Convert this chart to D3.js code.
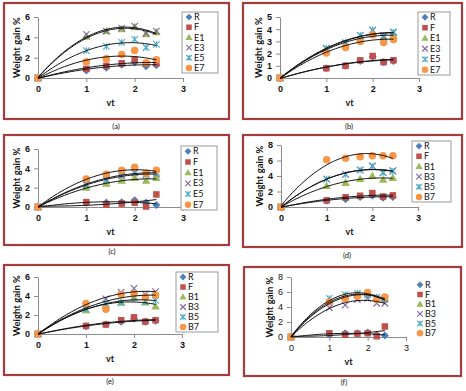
<!DOCTYPE html>
<html>
<head>
<meta charset="utf-8">
<script src="https://cdn.jsdelivr.net/npm/d3@7"></script>
<style>
body { margin: 0; background: #fff; }
</style>
</head>
<body>
<div id="chart"></div>
<script>
// x values are sqrt(t)
const vt = [0, 1, 1.414, 1.732, 2, 2.236, 2.449];
const xTicks = [0, 1, 2, 3];
const namesE = ["R", "F", "E1", "E3", "E5", "E7"];
const namesB = ["R", "F", "B1", "B3", "B5", "B7"];

// weight gain %, one row per series (R, F, E1/B1, E3/B3, E5/B5, E7/B7)
const gainA = [
    [0, 0.75, 1.0, 1.3, 1.55, 1.15, 1.25],
    [0, 0.9, 1.2, 1.45, 1.8, 1.4, 1.45],
    [0, 4.05, 4.6, 4.8, 5.0, 4.3, 4.5],
    [0, 4.3, 4.6, 4.9, 5.1, 4.4, 4.6],
    [0, 2.7, 3.1, 3.5, 3.8, 3.0, 3.3],
    [0, 1.6, 1.9, 2.3, 2.7, 1.5, 1.8]
];
const gainB = [
    [0, 0.8, 1.0, 1.4, 1.75, 1.3, 1.4],
    [0, 0.8, 1.0, 1.45, 1.8, 1.3, 1.45],
    [0, 2.3, 2.8, 3.3, 3.7, 3.3, 3.5],
    [0, 2.4, 2.85, 3.5, 3.9, 3.45, 3.75],
    [0, 2.45, 2.9, 3.5, 3.95, 3.35, 3.75],
    [0, 2.05, 2.5, 3.0, 3.55, 2.9, 3.15]
];
const gainC = [
    [0, 0.45, 0.45, 0.5, 0.7, 0.45, 0.2],
    [0, 0.5, 0.25, 0.35, 0.45, 0.05, 1.3],
    [0, 2.0, 2.4, 2.7, 3.0, 2.7, 3.0],
    [0, 2.3, 2.75, 3.2, 3.5, 3.3, 3.4],
    [0, 2.4, 2.85, 3.35, 3.6, 3.4, 3.55],
    [0, 2.9, 3.4, 3.8, 4.1, 3.5, 3.8]
];
const gainD = [
    [0, 0.8, 1.0, 1.3, 1.5, 1.2, 1.3],
    [0, 0.85, 1.25, 1.45, 1.8, 1.35, 1.5],
    [0, 2.7, 3.1, 3.6, 4.0, 3.5, 3.75],
    [0, 3.6, 4.2, 4.8, 5.3, 4.4, 4.7],
    [0, 3.6, 4.2, 4.75, 5.25, 4.45, 4.6],
    [0, 6.1, 6.3, 6.5, 6.6, 6.6, 6.6]
];
const gainE = [
    [0, 0.8, 1.0, 1.3, 1.6, 1.3, 1.4],
    [0, 0.85, 1.0, 1.45, 1.75, 1.3, 1.45],
    [0, 2.5, 3.0, 3.3, 3.8, 3.3, 2.9],
    [0, 3.0, 3.7, 4.4, 4.8, 4.2, 4.45],
    [0, 2.6, 3.2, 3.3, 3.9, 3.4, 3.55],
    [0, 3.2, 2.6, 4.15, 4.25, 3.9, 4.1]
];
const gainF = [
    [0, 0.3, 0.5, 0.5, 0.6, 0.3, 0.2],
    [0, 0.5, 0.3, 0.45, 0.5, 0.1, 1.4],
    [0, 4.8, 5.35, 5.6, 5.8, 5.15, 5.0],
    [0, 3.9, 4.25, 5.0, 5.15, 4.5, 4.5],
    [0, 5.15, 5.65, 5.8, 5.6, 5.3, 5.15],
    [0, 4.7, 5.15, 5.45, 5.95, 5.0, 5.35]
];

const colors = ["#4f81bd", "#c0504d", "#9bbb59", "#8064a2", "#4bacc6", "#f79646"];

// layout of each panel (pixel positions)
const panels = [
    {label: "(a)", data: gainA, names: namesE, yMax: 6, yStep: 2, frame: [4, 3, 225, 116],
     px: [38, 183], py: [78, 17], legend: [182, 12, 36, 61], lab: [116, 129], bold: true},
    {label: "(b)", data: gainB, names: namesE, yMax: 5, yStep: 1, frame: [243, 3, 219, 116],
     px: [280, 419], py: [78, 17], legend: [418, 12, 32, 63], lab: [349, 129], bold: true},
    {label: "(c)", data: gainC, names: namesE, yMax: 6, yStep: 2, frame: [4, 135, 225, 110],
     px: [38, 183], py: [207, 149], legend: [181, 146, 36, 64], lab: [112, 254], bold: true},
    {label: "(d)", data: gainD, names: namesB, yMax: 8, yStep: 2, frame: [243, 135, 219, 112],
     px: [281, 418], py: [207, 145], legend: [412, 141, 39, 61], lab: [347, 258], bold: true},
    {label: "(e)", data: gainE, names: namesB, yMax: 6, yStep: 2, frame: [4, 265, 225, 110],
     px: [38, 182], py: [334, 277], legend: [176, 272, 42, 60], lab: [110, 384], bold: true},
    {label: "(f)", data: gainF, names: namesB, yMax: 8, yStep: 2, frame: [244, 267, 217, 109],
     px: [291, 406], py: [337, 277], legend: [413, 280, 33, 58], lab: [344, 385], bold: false}
];

const svg = d3.select("#chart").append("svg")
    .attr("width", 466)
    .attr("height", 391)
    .style("font-family", "Lato, 'Open Sans', sans-serif");

// least squares 2nd order polynomial (like an excel trendline)
function quadFit(xs, ys) {
    const S = [0, 0, 0, 0, 0], T = [0, 0, 0];
    xs.forEach((x, i) => {
        for (let k = 0; k < 5; k++) S[k] += Math.pow(x, k);
        for (let k = 0; k < 3; k++) T[k] += Math.pow(x, k) * ys[i];
    });
    const M = [[S[0], S[1], S[2], T[0]], [S[1], S[2], S[3], T[1]], [S[2], S[3], S[4], T[2]]];
    for (let c = 0; c < 3; c++) {
        for (let r = c + 1; r < 3; r++) {
            const f = M[r][c] / M[c][c];
            for (let k = c; k < 4; k++) M[r][k] -= f * M[c][k];
        }
    }
    const b = [0, 0, 0];
    for (let r = 2; r >= 0; r--) {
        let s = M[r][3];
        for (let k = r + 1; k < 3; k++) s -= M[r][k] * b[k];
        b[r] = s / M[r][r];
    }
    return x => b[0] + b[1] * x + b[2] * x * x;
}

function marker(g, i, cx, cy, s) {
    const c = colors[i];
    if (i === 0) {
        // square turned 45 degrees
        const h = s * 0.62;
        g.append("path").attr("d", `M${cx},${cy - h}L${cx + h},${cy}L${cx},${cy + h}L${cx - h},${cy}Z`)
            .attr("fill", c);
    } else if (i === 1) {
        g.append("rect").attr("x", cx - s / 2).attr("y", cy - s / 2)
            .attr("width", s).attr("height", s).attr("fill", c);
    } else if (i === 2) {
        g.append("path").attr("d", d3.symbol(d3.symbolTriangle, s * s * 0.75)())
            .attr("transform", `translate(${cx},${cy + 0.5})`).attr("fill", c);
    } else if (i === 3 || i === 4) {
        const h = s / 2;
        let d = `M${cx - h},${cy - h}L${cx + h},${cy + h}M${cx - h},${cy + h}L${cx + h},${cy - h}`;
        if (i === 4) d += `M${cx},${cy - h}L${cx},${cy + h}`;
        g.append("path").attr("d", d).attr("stroke", c).attr("stroke-width", 1.1).attr("fill", "none");
    } else {
        g.append("circle").attr("cx", cx).attr("cy", cy).attr("r", s / 2 + 0.5).attr("fill", c);
    }
}

panels.forEach(function(p) {
    const g = svg.append("g");
    const fw = p.bold ? "bold" : "normal";

    g.append("rect")
        .attr("x", p.frame[0]).attr("y", p.frame[1])
        .attr("width", p.frame[2]).attr("height", p.frame[3])
        .attr("fill", "#fff").attr("stroke", "#a43c3e").attr("stroke-width", 2.2);

    const x = d3.scaleLinear().domain([0, 3]).range(p.px);
    const y = d3.scaleLinear().domain([0, p.yMax]).range(p.py);

    const xAxis = g.append("g")
        .attr("transform", "translate(0," + p.py[0] + ")")
        .call(d3.axisBottom(x).tickValues(xTicks).tickSize(4).tickSizeOuter(0).tickPadding(4).tickFormat(d3.format("d")));
    const yAxis = g.append("g")
        .attr("transform", "translate(" + p.px[0] + ",0)")
        .call(d3.axisLeft(y).tickValues(d3.range(0, p.yMax + 0.01, p.yStep)).tickSize(4).tickSizeOuter(0).tickPadding(4).tickFormat(d3.format("d")));
    [xAxis, yAxis].forEach(a => {
        a.selectAll("path, line").attr("stroke", "#8c8c8c");
        a.selectAll("text").attr("font-size", 9).attr("font-weight", fw)
            .attr("font-family", null).attr("fill", "#111");
    });

    // axis titles
    g.append("text")
        .attr("transform", `translate(${p.px[0] - 21},${(p.py[0] + p.py[1]) / 2}) rotate(-90)`)
        .attr("text-anchor", "middle").attr("dy", "0.35em")
        .attr("font-size", 9.5).attr("font-weight", "bold").attr("fill", "#111")
        .text("Weight gain %");
    g.append("text")
        .attr("x", (p.px[0] + p.px[1]) / 2).attr("y", p.py[0] + 28)
        .attr("text-anchor", "middle")
        .attr("font-size", 9).attr("font-weight", "bold").attr("fill", "#111")
        .text("vt");

    // points
    p.data.forEach((vals, i) => {
        vals.forEach((v, j) => marker(g, i, x(vt[j]), y(v), 6.5));
    });

    // polynomial trendlines
    const line = d3.line().x(d => x(d[0])).y(d => y(d[1]));
    p.data.forEach(vals => {
        const f = quadFit(vt, vals);
        const pts = d3.range(0, 2.4491, 0.05).concat([2.449]).map(t => [t, f(t)]);
        g.append("path").attr("d", line(pts))
            .attr("fill", "none").attr("stroke", "#111").attr("stroke-width", 1);
    });

    // legend
    const L = p.legend;
    g.append("rect")
        .attr("x", L[0]).attr("y", L[1]).attr("width", L[2]).attr("height", L[3])
        .attr("fill", "#fff").attr("stroke", p.bold ? "#9a9a9a" : "none");
    const row = L[3] / 6;
    p.names.forEach((n, i) => {
        const cy = L[1] + row * (i + 0.5);
        marker(g, i, L[0] + 7, cy, 5.5);
        g.append("text")
            .attr("x", L[0] + 12).attr("y", cy).attr("dy", "0.35em")
            .attr("font-size", 9).attr("fill", "#111")
            .text(n);
    });

    g.append("text")
        .attr("x", p.lab[0]).attr("y", p.lab[1])
        .attr("text-anchor", "middle")
        .attr("font-size", 7.5).attr("fill", "#111")
        .text(p.label);
});
</script>
</body>
</html>
